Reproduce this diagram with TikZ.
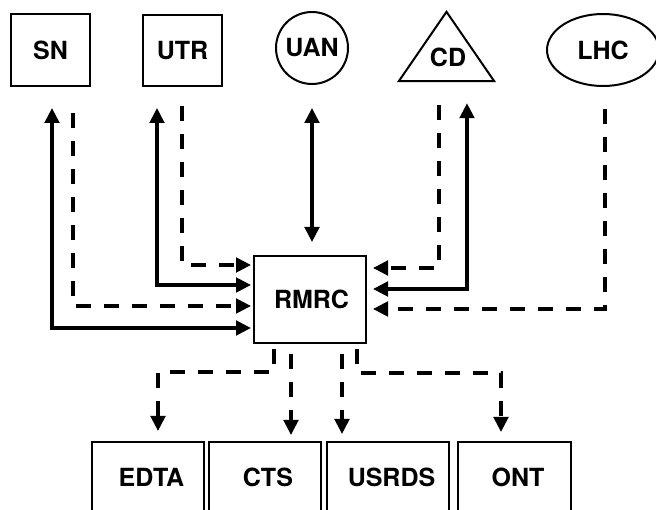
\documentclass[tikz,border=0pt]{standalone}
\usepackage{fontspec}
\setmainfont{TeX Gyre Heros}
\usetikzlibrary{arrows.meta,calc,shapes.geometric}
\tikzset{
  lbl/.style={font=\fontsize{25}{30}\selectfont\bfseries, inner sep=0pt},
  boxnode/.style={lbl, draw, line width=2pt, rectangle},
  tip/.tip={Triangle[length=15pt,width=14.5pt]},
  sol/.style={line width=3.4pt, -tip},
  bisol/.style={line width=3.4pt, tip-tip},
  dsh/.style={line width=3.4pt, -tip, dash pattern=on 15pt off 13pt},
}
\begin{document}
\begin{tikzpicture}[x=1pt,y=-1pt]
\useasboundingbox (0,0) rectangle (656,510);
\clip (0,0) rectangle (656,510);
\fill[white] (0,0) rectangle (656,510);
% top row
\node[boxnode, minimum width=79pt, minimum height=72pt] (sn) at (50.5,50) {SN};
\node[boxnode, minimum width=79pt, minimum height=71pt] (utr) at (182.5,50.5) {UTR};
\node[boxnode, circle, minimum size=72pt] (uan) at (312,48) {UAN};
\node[inner sep=0pt, minimum width=95pt, minimum height=69pt] (cdshape) at (446.5,46.5) {};
\draw[line width=2pt] (cdshape.south west) -- (cdshape.north) -- (cdshape.south east) -- cycle;
\node[lbl] (cd) at (448,57) {CD};
\node[boxnode, ellipse, minimum width=112pt, minimum height=72pt] (lhc) at (603,50) {LHC};
% centre
\node[boxnode, minimum width=112pt, minimum height=87pt] (rmrc) at (310,299.5) {\kern3pt RMRC};
% bottom row
\node[boxnode, minimum width=112pt, minimum height=70pt] (edta) at (148,477) {\kern7pt EDTA};
\node[boxnode, minimum width=112pt, minimum height=70pt] (cts) at (265,477) {\kern6pt CTS};
\node[boxnode, minimum width=122pt, minimum height=70pt] (usrds) at (388,477) {\kern7pt USRDS};
\node[boxnode, minimum width=113pt, minimum height=70pt] (ont) at (514.5,477) {\kern7pt ONT};
% left connectors
\draw[bisol] ($(sn.south)+(1.5,21)$) |- ($(rmrc.west)+(-2,28.5)$);
\draw[dsh] ($(sn.south)+(22.5,26)$) |- ($(rmrc.west)+(-2,6.5)$);
\draw[bisol] ($(utr.south)+(-25.5,21)$) |- ($(rmrc.west)+(-2,-14.5)$);
\draw[dsh] ($(utr.south)+(-0.5,19)$) |- ($(rmrc.west)+(-2,-34.5)$);
% UAN
\draw[bisol] ($(uan.south)+(0,23)$) -- ($(uan.south |- rmrc.north)+(0,-13)$);
% right connectors
\draw[dsh] ($(cdshape.south)+(-7.5,24)$) |- ($(rmrc.east)+(6,-31.5)$);
\draw[bisol] ($(cdshape.south)+(20.5,22)$) |- ($(rmrc.east)+(6,-10.5)$);
\draw[dsh] ($(lhc.south)+(2,22)$) |- ($(rmrc.east)+(6,9.5)$);
% bottom connectors
\draw[dsh] ($(rmrc.south)+(-36,5)$) -- ++(0,23) -| ($(edta.north)+(10,-10)$);
\draw[dsh] ($(rmrc.south)+(-19,10)$) -- ($(cts.north)+(26,-6)$);
\draw[dsh] ($(rmrc.south)+(32,10)$) -- ($(usrds.north)+(-46,-7)$);
\draw[dsh] ($(rmrc.south)+(47,5)$) -- ++(0,24) -| ($(ont.north)+(-13.5,-9)$);
\end{tikzpicture}
\end{document}
